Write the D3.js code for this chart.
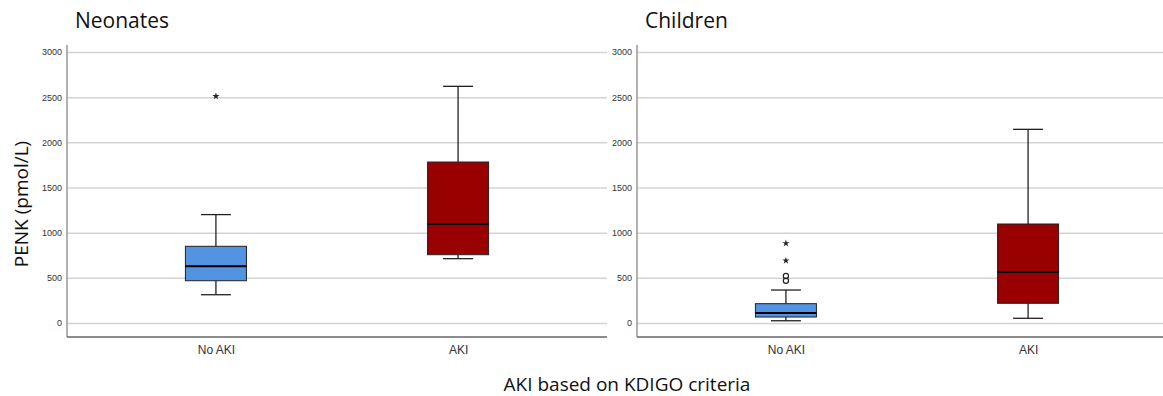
<!DOCTYPE html>
<html>
<head>
<meta charset="utf-8">
<script src="https://cdn.jsdelivr.net/npm/d3@7"></script>
<style>
  html, body { margin: 0; padding: 0; background: #fff; }
  svg { display: block; }
  .tick text { font-family: "Liberation Sans", Arial, sans-serif; fill: #333; }
</style>
</head>
<body>
<svg id="chart" width="1163" height="396"></svg>
<script>
// five-number summaries: [lower whisker, Q1, median, Q3, upper whisker]
const panels = ['Neonates', 'Children'];
const groups = ['No AKI', 'AKI'];
const yTicks = [0, 500, 1000, 1500, 2000, 2500, 3000];

const neonatesNoAki = [313, 468, 628, 849, 1200];
const neonatesAki = [712, 756, 1096, 1782, 2620];
const childrenNoAki = [25, 66, 111, 214, 365];
const childrenAki = [52, 218, 565, 1096, 2144];

// outliers (circles) and extremes (stars)
const neonatesOutliers = [[], []];
const neonatesExtremes = [[2510], []];
const childrenOutliers = [[468, 520], []];
const childrenExtremes = [[690, 882], []];

const fills = ['#5294e2', '#990000'];

const svg = d3.select('#chart');

const y = d3.scaleLinear().domain([0, 3000]).range([323, 52]);

const layout = [
  { title: panels[0], x0: 67, x1: 607, stats: [neonatesNoAki, neonatesAki], out: neonatesOutliers, ext: neonatesExtremes },
  { title: panels[1], x0: 637, x1: 1177, stats: [childrenNoAki, childrenAki], out: childrenOutliers, ext: childrenExtremes },
];

const boxW = 61;
const capW = 30;

layout.forEach((p) => {
  const x = d3.scalePoint().domain(groups).range([p.x0, p.x1]).padding(0.615);
  const g = svg.append('g');

  // gridlines + y tick labels
  const yAxis = d3.axisLeft(y).tickValues(yTicks).tickFormat(d3.format('d'))
    .tickSizeInner(-(p.x1 - p.x0)).tickSizeOuter(0).tickPadding(5);
  const ya = g.append('g').attr('transform', `translate(${p.x0},0)`).call(yAxis);
  ya.select('.domain').remove();
  ya.selectAll('.tick line').attr('stroke', '#d4d4d4').attr('stroke-width', 1.5);
  ya.selectAll('.tick text').attr('font-size', 9);

  // axis lines
  g.append('line').attr('x1', p.x0).attr('x2', p.x0).attr('y1', 45).attr('y2', 337)
    .attr('stroke', '#999').attr('stroke-width', 1.5);
  g.append('line').attr('x1', p.x0).attr('x2', p.x1).attr('y1', 337).attr('y2', 337)
    .attr('stroke', '#666').attr('stroke-width', 1.5);

  // x labels
  const xAxis = d3.axisBottom(x).tickSize(0).tickPadding(8);
  const xa = g.append('g').attr('transform', 'translate(0,337)').call(xAxis);
  xa.select('.domain').remove();
  xa.selectAll('.tick text').attr('font-size', 12).attr('fill', '#444');

  // title
  g.append('text').attr('x', p.x0 + 8).attr('y', 28)
    .attr('font-family', '"Open Sans", "Noto Sans", sans-serif').attr('font-size', 21).attr('fill', '#111')
    .text(p.title);

  // boxes
  groups.forEach((grp, i) => {
    const s = p.stats[i];
    const cx = x(grp);
    const b = g.append('g');
    b.append('line').attr('x1', cx).attr('x2', cx).attr('y1', y(s[3])).attr('y2', y(s[4]))
      .attr('stroke', '#222').attr('stroke-width', 1.3);
    b.append('line').attr('x1', cx).attr('x2', cx).attr('y1', y(s[0])).attr('y2', y(s[1]))
      .attr('stroke', '#222').attr('stroke-width', 1.3);
    [s[0], s[4]].forEach((v) => {
      b.append('line').attr('x1', cx - capW / 2).attr('x2', cx + capW / 2).attr('y1', y(v)).attr('y2', y(v))
        .attr('stroke', '#222').attr('stroke-width', 1.3);
    });
    b.append('rect').attr('x', cx - boxW / 2).attr('width', boxW)
      .attr('y', y(s[3])).attr('height', y(s[1]) - y(s[3]))
      .attr('fill', fills[i]).attr('stroke', '#222').attr('stroke-width', 1);
    b.append('line').attr('x1', cx - boxW / 2).attr('x2', cx + boxW / 2).attr('y1', y(s[2])).attr('y2', y(s[2]))
      .attr('stroke', '#000').attr('stroke-width', 2);

    p.out[i].forEach((v) => {
      b.append('circle').attr('cx', cx).attr('cy', y(v)).attr('r', 2.6)
        .attr('fill', 'none').attr('stroke', '#222').attr('stroke-width', 1.2);
    });
    p.ext[i].forEach((v) => {
      b.append('path').attr('transform', `translate(${cx},${y(v)})`)
        .attr('d', d3.symbol(d3.symbolStar).size(16)).attr('fill', '#222');
    });
  });
});

// shared axis titles
svg.append('text')
  .attr('transform', 'translate(28,204) rotate(-90)')
  .attr('text-anchor', 'middle')
  .attr('font-family', '"Open Sans", "Noto Sans", sans-serif').attr('font-size', 19).attr('fill', '#111')
  .text('PENK (pmol/L)');

svg.append('text')
  .attr('x', 627).attr('y', 391)
  .attr('text-anchor', 'middle')
  .attr('font-family', '"Open Sans", "Noto Sans", sans-serif').attr('font-size', 19).attr('fill', '#111')
  .text('AKI based on KDIGO criteria');
</script>
</body>
</html>
